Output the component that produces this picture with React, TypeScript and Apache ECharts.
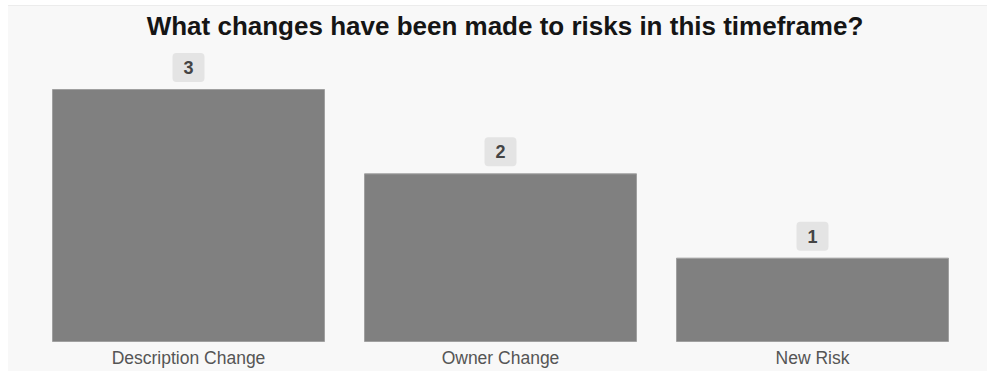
import React, { useEffect, useRef } from "react";
import * as echarts from "echarts";

const categories = ["Description Change", "Owner Change", "New Risk"];
const counts = [3, 2, 1];
const titleText = "What changes have been made to risks in this timeframe?";

const FONT = "'Liberation Sans', Arial, sans-serif";

export default function App() {
  const ref = useRef<HTMLDivElement>(null);
  useEffect(() => {
    if (!ref.current) return;
    const chart = echarts.init(ref.current, null, { renderer: "svg" });
    chart.setOption({
      animation: false,
      backgroundColor: "#f8f8f8",
      title: {
        text: titleText,
        left: 492,
        textAlign: "center",
        top: 2,
        textStyle: {
          fontFamily: FONT,
          fontWeight: "bold",
          fontSize: 26,
          color: "#151515",
        },
      },
      grid: { left: 24.5, right: 18.5, top: 83, bottom: 29 },
      xAxis: {
        type: "category",
        data: categories,
        axisLine: { show: false },
        axisTick: { show: false },
        axisLabel: {
          color: "#555",
          fontSize: 17.5,
          fontFamily: FONT,
          margin: 7,
        },
      },
      yAxis: {
        type: "value",
        min: 0,
        max: 3,
        show: false,
        splitLine: { show: false },
      },
      series: [
        {
          type: "bar",
          data: counts,
          barCategoryGap: "12.5%",
          itemStyle: { color: "#808080", borderColor: "#a0a0a0", borderWidth: 1 },
          label: {
            show: true,
            position: "top",
            distance: 7,
            color: "#444",
            fontWeight: "bold",
            fontSize: 18,
            fontFamily: FONT,
            backgroundColor: "#e4e4e4",
            borderRadius: 4,
            padding: [6, 11, 5, 11],
          },
        },
      ],
    });
    return () => chart.dispose();
  }, []);
  return (
    <div
      style={{
        position: "absolute",
        left: 8,
        top: 5,
        width: 979,
        height: 366,
        borderTop: "1px solid #ececec",
      }}
    >
      <div ref={ref} style={{ width: 979, height: 365 }} />
    </div>
  );
}
